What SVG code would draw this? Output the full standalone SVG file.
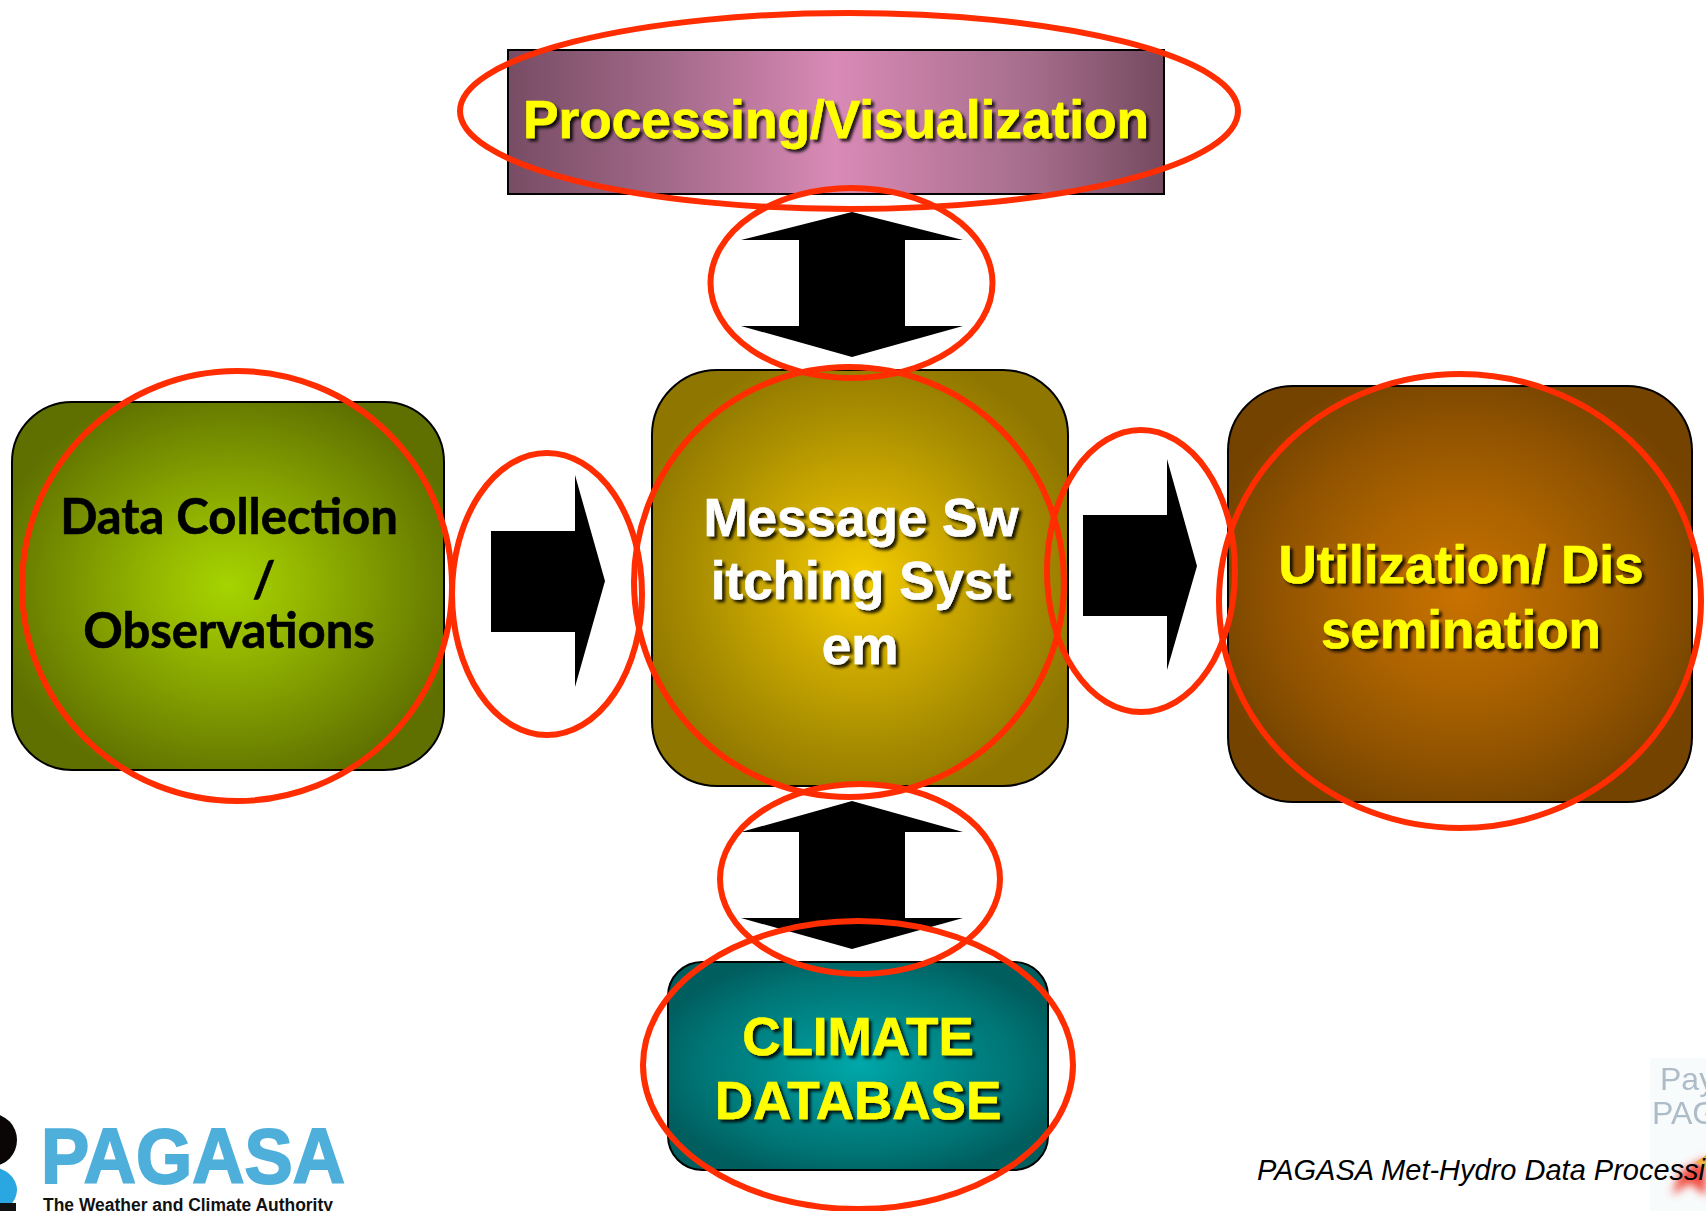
<svg xmlns="http://www.w3.org/2000/svg" width="1706" height="1211" viewBox="0 0 1706 1211">
<style>
.box{stroke:#000;stroke-width:2}
.arrow{fill:#000}
.ring{fill:none;stroke:#ff2d00;stroke-width:6}
text{font-family:"Liberation Sans",Arial,sans-serif;text-anchor:middle;font-weight:700}
.y{fill:#ffff00;filter:url(#sh)}
.w{fill:#fff;filter:url(#sh)}
.big{font-size:53px;stroke-width:.6px}
.y.big{stroke:#ffff00}
.w.big{stroke:#fff}
.cal{font-family:Lato,"Open Sans",sans-serif;font-size:49px;fill:#000;stroke:#000;stroke-width:.6px}
</style>
<defs>
<filter id="sh" x="-10%" y="-30%" width="120%" height="160%"><feDropShadow dx="3" dy="3" stdDeviation="1.6" flood-color="#000" flood-opacity=".85"/></filter>
<filter id="bl" x="-50%" y="-50%" width="200%" height="200%"><feGaussianBlur stdDeviation="4"/></filter>
<filter id="bl2" x="-20%" y="-20%" width="140%" height="140%"><feGaussianBlur stdDeviation=".7"/></filter>
<linearGradient id="gP"><stop offset="0" stop-color="#784c64"/><stop offset=".2" stop-color="#9a6482"/><stop offset=".5" stop-color="#d98ab6"/><stop offset=".8" stop-color="#a56d8b"/><stop offset="1" stop-color="#754a60"/></linearGradient>
<radialGradient id="gL" r=".56"><stop offset="0" stop-color="#a4d400"/><stop offset=".3" stop-color="#96b800"/><stop offset=".65" stop-color="#7a9400"/><stop offset="1" stop-color="#5f7000"/></radialGradient>
<radialGradient id="gC" r=".56"><stop offset="0" stop-color="#f6ce00"/><stop offset=".35" stop-color="#d0ac00"/><stop offset=".7" stop-color="#a98e00"/><stop offset="1" stop-color="#8f7600"/></radialGradient>
<radialGradient id="gR" r=".56"><stop offset="0" stop-color="#c97200"/><stop offset=".4" stop-color="#ac6300"/><stop offset=".7" stop-color="#925400"/><stop offset="1" stop-color="#744300"/></radialGradient>
<radialGradient id="gB" r=".56"><stop offset="0" stop-color="#00a8aa"/><stop offset=".4" stop-color="#008a8b"/><stop offset=".75" stop-color="#007475"/><stop offset="1" stop-color="#005e5e"/></radialGradient>
</defs>
<rect width="1706" height="1211" fill="#fff"/>

<g id="logo-pagasa">
<ellipse cx="-8" cy="1140" rx="25" ry="26" fill="#0a0606"/>
<ellipse cx="-10" cy="1190" rx="27" ry="23" fill="#2aa6e0"/>
<rect x="0" y="1203" width="16" height="8" fill="#111"/>
<text x="193" y="1183" style="font-size:78px;fill:#4fafdb;stroke:#4fafdb;stroke-width:2px" textLength="304" lengthAdjust="spacingAndGlyphs">PAGASA</text>
<text x="188" y="1211" style="font-size:18px;fill:#111" textLength="290" lengthAdjust="spacingAndGlyphs">The Weather and Climate Authority</text>
</g>

<g id="thumbnail">
<rect x="1650" y="1058" width="56" height="153" fill="#f8fbfc" filter="url(#bl2)"/>
<text x="1660" y="1090" style="font-size:32px;font-weight:400;fill:#aebcc8;text-anchor:start" filter="url(#bl2)">Pay</text>
<text x="1652" y="1124" style="font-size:32px;font-weight:400;fill:#aebcc8;text-anchor:start" filter="url(#bl2)">PAG</text>
<path d="M1672 1195 L1680 1172 L1706 1158 V1196 L1690 1183Z" fill="#f0493c" filter="url(#bl)"/>
<path d="M1696 1162 L1706 1155 V1170Z" fill="#f0b03c" filter="url(#bl2)"/>
</g>

<text id="footer" x="1257" y="1180" style="font-size:29px;font-weight:400;font-style:italic;fill:#000;text-anchor:start">PAGASA Met-Hydro Data Processi</text>

<g id="node-processing">
<rect class="box" x="508" y="50" width="656" height="144" fill="url(#gP)"/>
<text class="y big" x="836" y="138" textLength="626" lengthAdjust="spacingAndGlyphs">Processing/Visualization</text>
</g>
<g id="node-data">
<rect class="box" x="12" y="402" width="432" height="368" rx="60" fill="url(#gL)"/>
<text class="cal" x="229" y="534">Data Collection</text>
<text class="cal" x="264" y="597">/</text>
<text class="cal" x="229" y="648">Observations</text>
</g>
<g id="node-switching">
<rect class="box" x="652" y="370" width="416" height="416" rx="65" fill="url(#gC)"/>
<text class="w big" x="861" y="536">Message Sw</text>
<text class="w big" x="861" y="599">itching Syst</text>
<text class="w big" x="860" y="664">em</text>
</g>
<g id="node-utilization">
<rect class="box" x="1228" y="386" width="464" height="416" rx="65" fill="url(#gR)"/>
<text class="y big" x="1461" y="583">Utilization/ Dis</text>
<text class="y big" x="1461" y="648">semination</text>
</g>
<g id="node-climate">
<rect class="box" x="668" y="962" width="380" height="208" rx="34" fill="url(#gB)"/>
<text class="y big" x="858" y="1055">CLIMATE</text>
<text class="y big" x="858" y="1119">DATABASE</text>
</g>

<g id="connectors">
<path class="arrow" d="M852 212 L963 240 H905 V326 H963 L852 357 L741 326 H799 V240 H741Z"/>
<path class="arrow" d="M852 801 L963 832 H905 V918 H963 L852 949 L741 918 H799 V832 H741Z"/>
<path class="arrow" d="M491 531 H575 V475 L605 581 L575 687 V632 H491Z"/>
<path class="arrow" d="M1083 515 H1167 V459 L1197 566 L1167 670 V616 H1083Z"/>
</g>

<g id="highlights">
<ellipse class="ring" cx="849" cy="111" rx="389" ry="98"/>
<ellipse class="ring" cx="851.500" cy="283" rx="141" ry="95"/>
<ellipse class="ring" cx="237" cy="586" rx="215" ry="215"/>
<ellipse class="ring" cx="547" cy="594" rx="95" ry="141"/>
<ellipse class="ring" cx="849" cy="582" rx="215" ry="215"/>
<ellipse class="ring" cx="1141" cy="571" rx="94" ry="141"/>
<ellipse class="ring" cx="1460" cy="601" rx="241" ry="227"/>
<ellipse class="ring" cx="860" cy="879" rx="140" ry="95"/>
<ellipse class="ring" cx="858" cy="1065" rx="215" ry="144"/>
</g>
</svg>
